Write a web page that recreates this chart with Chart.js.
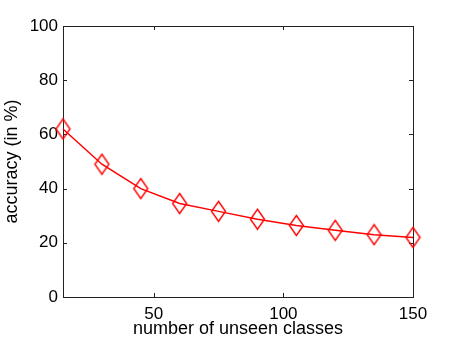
<!DOCTYPE html>
<html>
<head>
<meta charset="utf-8">
<script src="https://cdn.jsdelivr.net/npm/chart.js@4"></script>
<style>
  html, body { margin: 0; padding: 0; background: #fff; }
  #wrap { width: 457px; height: 343px; }
</style>
</head>
<body>
<div id="wrap"><canvas id="accChart" width="457" height="343"></canvas></div>
<script>
const unseenClasses = [15, 30, 45, 60, 75, 90, 105, 120, 135, 150];
const accuracy = [62, 49, 40, 34.5, 31.6, 28.7, 26.4, 24.6, 23, 22];
const xTicks = [50, 100, 150];
const yTicks = [0, 20, 40, 60, 80, 100];

// diamond marker, a bit taller than wide like the original
function makeDiamond() {
  const c = document.createElement('canvas');
  c.width = 17; c.height = 23;
  const g = c.getContext('2d');
  g.strokeStyle = '#ff0000';
  g.lineWidth = 1.4;
  g.beginPath();
  g.moveTo(8.5, 1.5);
  g.lineTo(15.5, 11.5);
  g.lineTo(8.5, 21.5);
  g.lineTo(1.5, 11.5);
  g.closePath();
  g.stroke();
  return c;
}
const diamond = makeDiamond();

// box around the plot and inward tick marks on all four sides
const boxTicks = {
  id: 'boxTicks',
  beforeDatasetsDraw(chart) {
    const ctx = chart.ctx;
    const a = chart.chartArea;
    const xs = chart.scales.x, ys = chart.scales.y;
    ctx.save();
    ctx.strokeStyle = '#222';
    ctx.lineWidth = 1;
    ctx.strokeRect(Math.round(a.left) + 0.5, Math.round(a.top) + 0.5,
      Math.round(a.right - a.left), Math.round(a.bottom - a.top));
    ctx.beginPath();
    xTicks.forEach(v => {
      const px = Math.round(xs.getPixelForValue(v)) + 0.5;
      ctx.moveTo(px, a.bottom); ctx.lineTo(px, a.bottom - 4);
      ctx.moveTo(px, a.top); ctx.lineTo(px, a.top + 4);
    });
    yTicks.forEach(v => {
      const py = Math.round(ys.getPixelForValue(v)) + 0.5;
      ctx.moveTo(a.left, py); ctx.lineTo(a.left + 4, py);
      ctx.moveTo(a.right, py); ctx.lineTo(a.right - 4, py);
    });
    ctx.stroke();
    ctx.restore();
  }
};

const fontFam = '"Liberation Sans", Helvetica, Arial, sans-serif';

new Chart(document.getElementById('accChart').getContext('2d'), {
  type: 'line',
  data: {
    datasets: [{
      data: unseenClasses.map((x, i) => ({ x: x, y: accuracy[i] })),
      borderColor: '#ff0000',
      borderWidth: 1.5,
      pointStyle: diamond,
      pointRadius: 9,
      tension: 0,
      fill: false,
      clip: false
    }]
  },
  options: {
    responsive: false,
    animation: false,
    layout: { padding: { top: 26, right: 44, left: 0, bottom: 0 } },
    plugins: { legend: { display: false }, tooltip: { enabled: false } },
    scales: {
      x: {
        type: 'linear',
        min: 15,
        max: 150,
        afterBuildTicks: s => { s.ticks = xTicks.map(v => ({ value: v })); },
        afterFit: s => { s.height = 46; },
        grid: { display: false, drawTicks: false },
        border: { display: false },
        ticks: { color: '#000', font: { family: fontFam, size: 17 }, padding: 7, maxRotation: 0 },
        title: {
          display: true,
          text: 'number of unseen classes',
          color: '#000',
          font: { family: fontFam, size: 18 },
          padding: { top: 0, bottom: 3 }
        }
      },
      y: {
        min: 0,
        max: 100,
        afterBuildTicks: s => { s.ticks = yTicks.map(v => ({ value: v })); },
        afterFit: s => { s.width = 63; },
        grid: { display: false, drawTicks: false },
        border: { display: false },
        ticks: { color: '#000', font: { family: fontFam, size: 17 }, padding: 5 },
        title: {
          display: true,
          text: 'accuracy (in %)',
          color: '#000',
          font: { family: fontFam, size: 18 },
          padding: { top: 1, bottom: 0 }
        }
      }
    }
  },
  plugins: [boxTicks]
});
</script>
</body>
</html>
